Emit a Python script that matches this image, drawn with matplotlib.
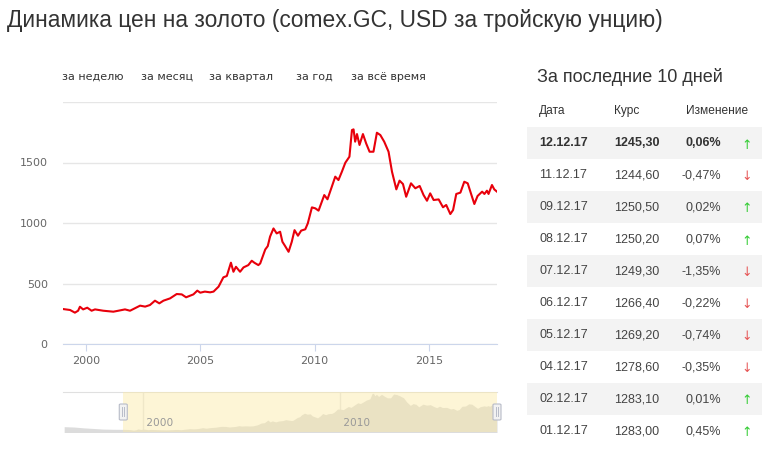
import matplotlib
matplotlib.use("Agg")
import matplotlib.pyplot as plt
from matplotlib.patches import Rectangle, FancyBboxPatch

W, H = 775, 453

# gold price (decimal year -> USD)
years = [1999.0, 1999.31, 1999.52, 1999.66, 1999.74, 1999.88, 2000.06, 2000.25, 2000.4,
         2000.76, 2001.2, 2001.42, 2001.71, 2001.93, 2002.37, 2002.59, 2002.8, 2003.02,
         2003.21, 2003.39, 2003.68, 2003.97, 2004.19, 2004.38, 2004.7, 2004.87, 2005.0,
         2005.2, 2005.43, 2005.58, 2005.8, 2006.01, 2006.16, 2006.34, 2006.45, 2006.56,
         2006.74, 2006.89, 2007.1, 2007.25, 2007.37, 2007.54, 2007.62, 2007.84, 2007.95,
         2008.05, 2008.2, 2008.34, 2008.49, 2008.59, 2008.71, 2008.86, 2009.0, 2009.12,
         2009.27, 2009.41, 2009.59, 2009.7, 2009.88, 2010.03, 2010.17, 2010.42, 2010.56,
         2010.75, 2010.9, 2011.04, 2011.19, 2011.34, 2011.52, 2011.63, 2011.7, 2011.77,
         2011.85, 2011.96, 2012.11, 2012.25, 2012.4, 2012.57, 2012.72, 2012.87, 2013.04,
         2013.23, 2013.38, 2013.57, 2013.71, 2013.86, 2014.0, 2014.21, 2014.4, 2014.59,
         2014.76, 2014.91, 2015.05, 2015.2, 2015.42, 2015.61, 2015.75, 2015.93, 2016.05,
         2016.19, 2016.37, 2016.54, 2016.69, 2016.83, 2016.98, 2017.12, 2017.32, 2017.42,
         2017.53, 2017.6, 2017.75, 2017.85, 2017.97]
prices = [289, 281, 259, 275, 308, 286, 300, 275, 286,
          275, 267, 275, 286, 275, 317, 309, 322, 358,
          336, 358, 377, 413, 410, 386, 410, 441, 424,
          433, 427, 433, 474, 551, 562, 672, 597, 638,
          597, 633, 652, 688, 671, 652, 666, 781, 809,
          887, 955, 914, 928, 845, 809, 762, 845, 941,
          895, 937, 948, 997, 1129, 1121, 1102, 1231, 1196,
          1300, 1383, 1355, 1424, 1498, 1548, 1768, 1774, 1672,
          1735, 1645, 1735, 1658, 1589, 1589, 1746, 1727, 1672,
          1589, 1424, 1278, 1350, 1322, 1217, 1328, 1287, 1306,
          1231, 1184, 1245, 1190, 1195, 1130, 1149, 1074, 1107,
          1240, 1251, 1341, 1328, 1245, 1157, 1223, 1259, 1240,
          1267, 1240, 1314, 1278, 1259]

# earlier history shown only in the navigator
nav_years_early = [1996.0, 1996.5, 1997.0, 1997.5, 1998.0, 1998.5]
nav_prices_early = [400, 385, 350, 325, 300, 292]

main_ticks = [2000, 2005, 2010, 2015]
main_yticks = [0, 500, 1000, 1500, 2000]
nav_ticks = [2000, 2010]
period_tabs = ['за неделю', 'за месяц', 'за квартал', 'за год', 'за всё время']

table_dates = ['12.12.17', '11.12.17', '09.12.17', '08.12.17', '07.12.17',
               '06.12.17', '05.12.17', '04.12.17', '02.12.17', '01.12.17']
table_rates = ['1245,30', '1244,60', '1250,50', '1250,20', '1249,30',
               '1266,40', '1269,20', '1278,60', '1283,10', '1283,00']
table_changes = [0.06, -0.47, 0.02, 0.07, -1.35, -0.22, -0.74, -0.35, 0.01, 0.45]


def fx(px):
    return px / W


def fy(py):
    return 1 - py / H


fig = plt.figure(figsize=(W / 100, H / 100), dpi=100)
fig.patch.set_facecolor('white')

fig.text(fx(7), fy(20), 'Динамика цен на золото (comex.GC, USD за тройскую унцию)',
         fontsize=16.4, color='#333333', family='Liberation Sans', va='center', ha='left')

# period tabs
for label, x in zip(period_tabs, [62, 141, 209, 296, 351]):
    fig.text(fx(x), fy(77), label, fontsize=8, color='#333333', family='DejaVu Sans',
             va='center', ha='left')

# main chart
ax = fig.add_axes([fx(63), fy(344), 434 / W, 242 / H])
ax.plot(years, prices, color='#e8000b', lw=1.5, solid_joinstyle='round')
ax.set_xlim(1999.0, 2017.97)
ax.set_ylim(0, 2000)
ax.set_yticks(main_yticks)
ax.set_yticklabels(['0', '500', '1000', '1500', ''])
ax.set_xticks(main_ticks)
ax.grid(axis='y', color='#e6e6e6', lw=1)
ax.set_axisbelow(True)
for side in ['top', 'right', 'left']:
    ax.spines[side].set_visible(False)
ax.spines['bottom'].set_color('#ccd6eb')
ax.tick_params(axis='y', length=0, pad=11, labelsize=8, labelcolor='#666666')
ax.tick_params(axis='x', length=5, color='#ccd6eb', pad=4, labelsize=8, labelcolor='#666666')
for lbl in ax.get_xticklabels() + ax.get_yticklabels():
    lbl.set_family('DejaVu Sans')

# navigator
nav_x0, nav_x1 = 1995.94, 2017.97
axn = fig.add_axes([fx(63), fy(432), 434 / W, 40 / H])
axn.fill_between(nav_years_early + years, nav_prices_early + prices, 0,
                 color='#dcdcdc', lw=0)
axn.set_xlim(nav_x0, nav_x1)
axn.set_ylim(180, 1830)
axn.set_yticks([])
axn.set_xticks(nav_ticks)
axn.set_xticklabels([])
axn.tick_params(axis='x', length=0)
axn.grid(axis='x', color='#e6e6e6', lw=1)
axn.set_axisbelow(True)
for side in ['right', 'left', 'bottom']:
    axn.spines[side].set_visible(False)
axn.spines['top'].set_color('#e0e0e0')
axn.add_patch(Rectangle((years[0], 0), years[-1] - years[0], 1,
                        transform=axn.get_xaxis_transform(),
                        facecolor=(251 / 255, 234 / 255, 168 / 255), alpha=0.47,
                        lw=0, zorder=3))
for t in nav_ticks:
    axn.text(t, 0.22, ' ' + str(t), transform=axn.get_xaxis_transform(),
             fontsize=7.6, color='#999999', ha='left', va='center', zorder=4)

# navigator handles
fig.canvas.draw()
for xv in [years[0], years[-1]]:
    hx = axn.transData.transform((xv, 0))[0] / W
    hw, hh = 8 / W, 16 / H
    hy = fy(420)
    fig.add_artist(FancyBboxPatch((hx - hw / 2, hy), hw, hh, boxstyle='round,pad=0,rounding_size=0.002',
                                  transform=fig.transFigure, facecolor='#f2f2f2',
                                  edgecolor='#b8bcc8', lw=0.8, zorder=5))
    for dx in [-1.2, 1.2]:
        fig.add_artist(plt.Line2D([hx + dx / W, hx + dx / W], [fy(416), fy(407)],
                                  transform=fig.transFigure, color='#b8bcc8', lw=0.7, zorder=6))

# table of the last 10 days
fig.text(fx(537), fy(77), 'За последние 10 дней', fontsize=13, color='#333333',
         family='Liberation Sans', va='center', ha='left')
fig.text(fx(539), fy(111), 'Дата', fontsize=8.6, color='#333333', family='Liberation Sans',
         va='center', ha='left')
fig.text(fx(614), fy(111), 'Курс', fontsize=8.6, color='#333333', family='Liberation Sans',
         va='center', ha='left')
fig.text(fx(686), fy(111), 'Изменение', fontsize=8.6, color='#333333', family='Liberation Sans',
         va='center', ha='left')

for i, (d, r, c) in enumerate(zip(table_dates, table_rates, table_changes)):
    yc = 143 + 32 * i
    if i % 2 == 0:
        fig.add_artist(Rectangle((fx(527), fy(yc + 16)), 235 / W, 32 / H,
                                 transform=fig.transFigure, facecolor='#f3f3f3', lw=0, zorder=0))
    weight = 'bold' if i == 0 else 'normal'
    col = '#333333' if i == 0 else '#444444'
    fig.text(fx(539), fy(yc), d, fontsize=9, color=col, weight=weight,
             family='Liberation Sans', va='center', ha='left')
    fig.text(fx(614), fy(yc), r, fontsize=9, color=col, weight=weight,
             family='Liberation Sans', va='center', ha='left')
    fig.text(fx(721), fy(yc), ('%.2f%%' % c).replace('.', ','), fontsize=9, color=col,
             weight=weight, family='Liberation Sans', va='center', ha='right')
    arrow = '↑' if c >= 0 else '↓'
    acol = '#33cc33' if c >= 0 else '#e65555'
    fig.text(fx(747), fy(yc + 2), arrow, fontsize=9, color=acol, family='DejaVu Sans',
             va='center', ha='center')

fig.savefig('out.png', dpi=100)
